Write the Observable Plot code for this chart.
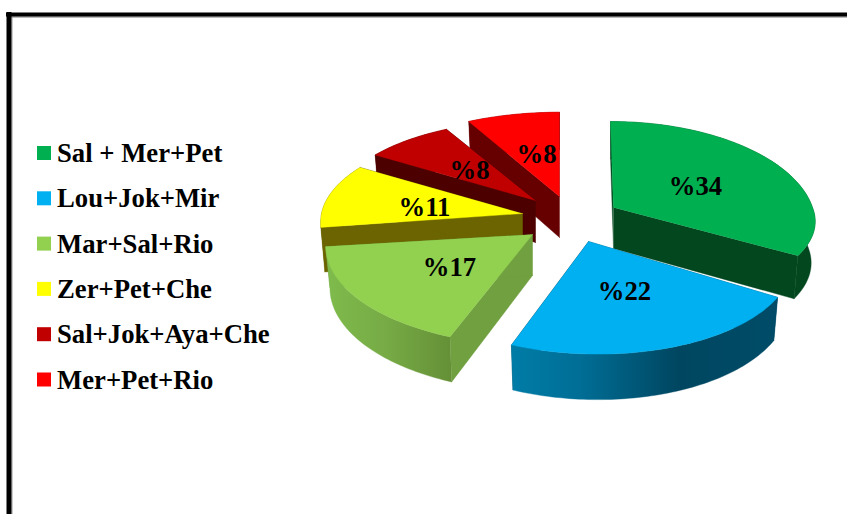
<!DOCTYPE html>
<html>
<head>
<meta charset="utf-8">
<script src="https://cdn.jsdelivr.net/npm/d3@7"></script>
<script src="https://cdn.jsdelivr.net/npm/@observablehq/plot@0.6"></script>
<style>
html,body{margin:0;padding:0;background:#fff;}
svg{display:block;}
</style>
</head>
<body>
<div id="chart"></div>
<script>
// Data
const categories = ["Sal + Mer+Pet","Lou+Jok+Mir","Mar+Sal+Rio","Zer+Pet+Che","Sal+Jok+Aya+Che","Mer+Pet+Rio"];
const values = [34,22,17,11,8,8];
const topColors = ["#00b050","#00b0f0","#92d050","#ffff00","#c00000","#ff0000"];
const cutColors = ["#03471f","#004a66","#70a03f","#6b6400","#4d0000","#660000"];
const rimColors = ["#03471f","url(#rimBlue)","url(#rimGreen)","#6b6400","#4d0000","#660000"];

// Layout of the exploded 3D pie
const apexX = [613,588,532,522,535,559];
const apexY = [207,241,234,213,200,196];
const skew  = [0.035,0.085,0.05,0.11,0.035,0];
const rxScale = [0.99,1,1.02,1,1.01,1.06];
const backScale = [1,1,1,0.94,0.93,0.98];
const frontScale = [0.84,0.97,0.96,1.1,1,1];
const depths = [41,41,41,44,42,41];
const rx = 201, ry = 98.8, k = 0.149;
const labelX = [695,624,449,424,469,536];
const labelY = [186,291,267,207,170,154];
const paintOrder = [5,4,3,0,2,1];

const arcs = d3.pie().sort(null).value(d => d)(values);

function pt(i, t, r, bottom) {
  const den = 1 + k * Math.cos(t);
  let dx = r * rx * rxScale[i] * Math.sin(t) / den;
  let dy = -r * ry * Math.cos(t) / den;
  dy *= dy > 0 ? frontScale[i] : backScale[i];
  dx += skew[i] * dy;
  if (bottom) { dx *= 0.98; dy = dy * 1.04 + depths[i]; }
  return {x: apexX[i] + dx, y: apexY[i] + dy};
}
function arcPts(i, bottom) {
  const {startAngle: a, endAngle: b} = arcs[i];
  const n = Math.ceil((b - a) / 0.02);
  return d3.range(n + 1).map(j => pt(i, a + (b - a) * j / n, 1, bottom));
}
function slicePolys(i) {
  const {startAngle: a, endAngle: b} = arcs[i];
  const cut = t => [pt(i, t, 0, false), pt(i, t, 1, false), pt(i, t, 1, true), pt(i, t, 0, true)];
  return [
    {points: cut(a), fill: cutColors[i]},
    {points: cut(b), fill: cutColors[i]},
    {points: [...arcPts(i, false), ...arcPts(i, true).reverse()], fill: rimColors[i]},
    {points: [pt(i, 0, 0, false), ...arcPts(i, false)], fill: topColors[i]}
  ];
}
const polys = paintOrder.flatMap(slicePolys);

const legendY = categories.map((_, i) => 153 + i * 45.3);
const legend = categories.map((name, i) => ({name, i, y: legendY[i], color: topColors[i]}));
const labels = values.map((v, i) => ({text: "%" + v, x: labelX[i], y: labelY[i]}));

const serif = "'Liberation Serif','Times New Roman',serif";

const svg = Plot.plot({
  width: 847, height: 514,
  margin: 0,
  x: {domain: [0, 847], range: [0, 847], axis: null},
  y: {domain: [0, 514], range: [0, 514], axis: null},
  style: {background: "#fff"},
  marks: [
    // Frame
    Plot.ruleY([16.5], {x1: 11, x2: 847, stroke: "#777", strokeWidth: 1}),
    Plot.ruleX([11.5], {y1: 16, y2: 514, stroke: "#999", strokeWidth: 1}),
    Plot.ruleY([14], {x1: 6, x2: 847, stroke: "#000", strokeWidth: 4}),
    Plot.ruleX([8.5], {y1: 12, y2: 514, stroke: "#000", strokeWidth: 5}),
    // Pie
    ...polys.map(p => Plot.line(p.points, {x: "x", y: "y", fill: p.fill, stroke: p.fill, strokeWidth: 0.4})),
    // Percent labels
    Plot.text(labels, {x: "x", y: "y", text: "text", fontFamily: serif, fontWeight: "bold", fontSize: 26.7, fill: "#000"}),
    // Legend
    Plot.rect(legend, {x1: () => 37, x2: () => 51, y1: d => d.y - 7, y2: d => d.y + 7, fill: d => d.color, stroke: null}),
    Plot.text(legend, {x: () => 56.5, y: "y", text: "name", textAnchor: "start", fontFamily: serif, fontWeight: "bold", fontSize: 26.7, fill: "#000"})
  ],
  color: {type: "identity"}
});

const defs = d3.select(svg).insert("defs", ":first-child");
function grad(id, x1, x2, stops) {
  const g = defs.append("linearGradient").attr("id", id).attr("gradientUnits", "userSpaceOnUse")
    .attr("x1", x1).attr("x2", x2).attr("y1", 0).attr("y2", 0);
  stops.forEach(([o, c]) => g.append("stop").attr("offset", o).attr("stop-color", c));
}
grad("rimBlue", 512, 780, [[0, "#007ca6"], [0.25, "#006e96"], [0.62, "#004660"], [1, "#004c68"]]);
grad("rimGreen", 325, 452, [[0, "#7fbb4c"], [0.5, "#76aa45"], [1, "#648f36"]]);

document.getElementById("chart").appendChild(svg);
</script>
</body>
</html>
